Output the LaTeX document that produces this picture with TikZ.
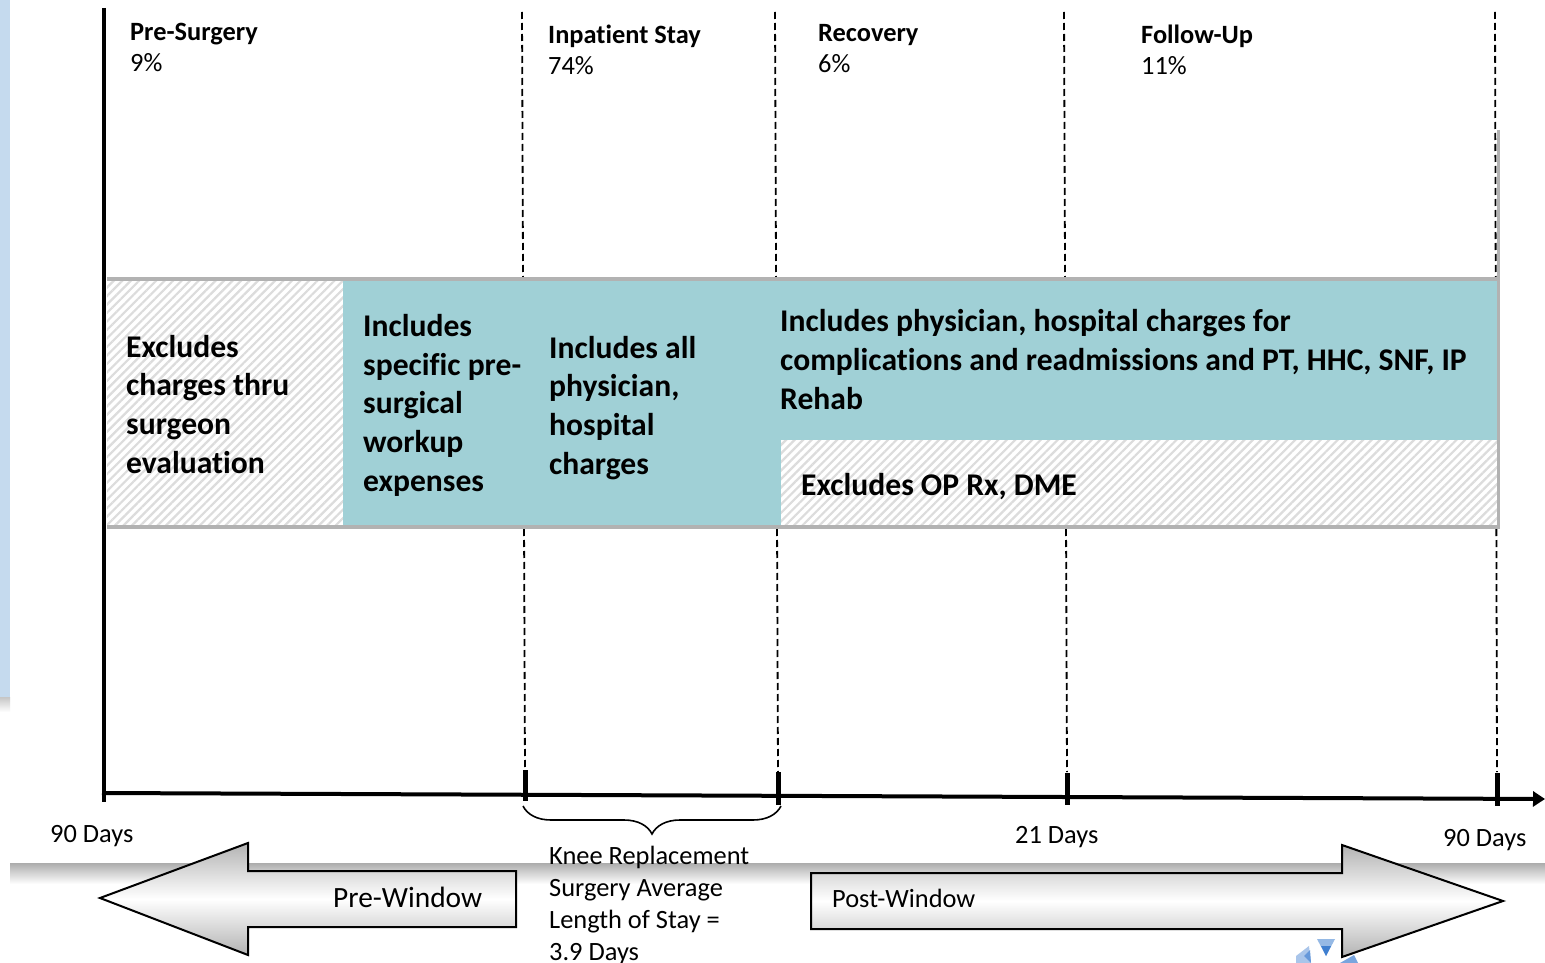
\documentclass[tikz,border=0pt]{standalone}
\usepackage{fontspec}
\setmainfont{Carlito}[Ligatures=NoCommon]
\usetikzlibrary{arrows.meta,patterns.meta,decorations.pathreplacing}

\definecolor{bandteal}{HTML}{A0D0D6}
\definecolor{bandgray}{HTML}{B2B2B2}
\definecolor{hatchgray}{HTML}{DCDCDC}
\definecolor{winblue}{HTML}{C5DAEE}
\definecolor{logoblue}{HTML}{3F7FD0}

% multi-line nodes are placed by the baseline of their last line
\tikzset{
  phase/.style={font=\fontsize{26.4}{31.5}\selectfont, align=left, anchor=base west, inner sep=0pt},
  boxtext/.style={font=\fontsize{31.6}{38.6}\selectfont\bfseries, align=left, anchor=base west, inner sep=0pt},
  daytext/.style={font=\fontsize{26.4}{32}\selectfont, align=left, anchor=base west, inner sep=0pt},
  wintext/.style={daytext},
  hatched/.style={pattern={Lines[angle=45,distance=6pt,line width=2.2pt]}, pattern color=hatchgray},
  divider/.style={line width=1.8pt, dash pattern=on 7pt off 4pt},
  tickmark/.style={line width=5pt},
  blockarrow/.style={draw=black, line width=2pt, line join=miter, top color=gray!60, bottom color=gray!60, middle color=white},
}

\begin{document}
\begin{tikzpicture}[x=1pt,y=-1pt]
\useasboundingbox (0,0) rectangle (1545,963);
\fill[white] (0,0) rectangle (1545,963);

% window edge behind the slide, and the slide's drop shadow
\fill[winblue] (0,0) rectangle (10,697);
\shade[top color=gray!45, bottom color=white] (0,697) rectangle (10,712);
\shade[top color=gray!65, bottom color=white] (10,863) rectangle (1545,884);

% phase dividers
\coordinate (d1t) at (522,12);   \coordinate (d1b) at (525,772);
\coordinate (d2t) at (775,12);   \coordinate (d2b) at (778,772);
\coordinate (d3t) at (1064,12);  \coordinate (d3b) at (1067,772);
\coordinate (d4t) at (1495,12);  \coordinate (d4b) at (1497,772);
\draw[divider] (d1t) -- (d1b);
\draw[divider] (d2t) -- (d2b);
\draw[divider] (d3t) -- (d3b);
\draw[divider] (d4t) -- (d4b);

% coverage band
\fill[white] (107,281) rectangle (343,525);
\fill[hatched] (107,281) rectangle (343,525);
\fill[bandteal] (343,278) rectangle (781,527);
\fill[bandteal] (781,278) rectangle (1500,440);
\fill[white] (781,440) rectangle (1497,525);
\fill[hatched] (781,440) rectangle (1497,525);
\draw[bandgray, line width=4pt] (107,279) -- (1500,279);
\draw[bandgray, line width=4pt] (107,527) -- (1500,527);
\draw[bandgray, line width=3pt] (1498,130) -- (1498,528);

% axes
\coordinate (ytop) at (104,8);
\coordinate (ybot) at (104,802);
\coordinate (xstart) at (102,793);
\coordinate (xend) at (1545,799);
\draw[line width=4.5pt] (ytop) -- (ybot);
\draw[line width=4pt, -{Triangle[length=12pt,width=15pt]}] (xstart) -- (xend);

% tick marks
\draw[tickmark] (525,770) -- (525,801);
\draw[tickmark] (778,772) -- (778,805);
\draw[tickmark] (1067,773) -- (1067,805);
\draw[tickmark] (1497,773) -- (1497,806);

% length-of-stay brace
\coordinate (bl) at (523,806);
\coordinate (br) at (781,806);
\draw[line width=1.6pt, decorate, decoration={brace, mirror, amplitude=28pt}] (bl) -- (br);

% phase headings
\node[phase] (hpre) at (130,72) {\textbf{Pre-Surgery}\\9\%};
\node[phase] (hinp) at (548,75) {\textbf{Inpatient Stay}\\74\%};
\node[phase] (hrec) at (818,73) {\textbf{Recovery}\\6\%};
\node[phase] (hfol) at (1141,75) {\textbf{Follow-Up}\\11\%};

% band texts
\node[boxtext] (excl1) at (126,473) {Excludes\\charges thru\\surgeon\\evaluation};
\node[boxtext] (incl1) at (363,491) {Includes\\specific pre-\\surgical\\workup\\expenses};
\node[boxtext] (incl2) at (549,474) {Includes all\\physician,\\hospital\\charges};
\node[boxtext] (incl3) at (780,409) {Includes physician, hospital charges for\\complications and readmissions and PT, HHC, SNF, IP\\Rehab};
\node[boxtext] (excl2) at (801,495) {Excludes OP Rx, DME};

% day labels
\node[daytext] (day0) at (50,842) {90 Days};
\node[daytext] (day21) at (1015,843) {21 Days};
\node[daytext] (day90) at (1443,846) {90 Days};
\node[daytext] (los) at (549,960) {Knee Replacement\\Surgery Average\\Length of Stay =\\3.9 Days};

% window arrows
\path[blockarrow] (100,898) -- (248,843) -- (248,871) -- (516,871) -- (516,927) -- (248,927) -- (248,955) -- cycle;
\path[blockarrow] (1503,901) -- (1342,845) -- (1342,873) -- (811,873) -- (811,929) -- (1342,929) -- (1342,957) -- cycle;
\node[wintext, font=\fontsize{29.4}{32}\selectfont] (prewin) at (333,907) {Pre-Window};
\node[wintext] (postwin) at (832,907) {Post-Window};

% logo fragment
\fill[logoblue!55] (1317,939) -- (1335,939) -- (1326,956) -- cycle;
\fill[logoblue] (1321,946) -- (1331,946) -- (1326,956) -- cycle;
\fill[logoblue!45] (1296,956) -- (1309,946) -- (1311,963) -- (1296,963) -- cycle;
\fill[logoblue!80] (1304,956) -- (1310,950) -- (1311,963) -- cycle;
\fill[logoblue!70] (1340,963) -- (1354,955) -- (1358,963) -- cycle;
\end{tikzpicture}
\end{document}
